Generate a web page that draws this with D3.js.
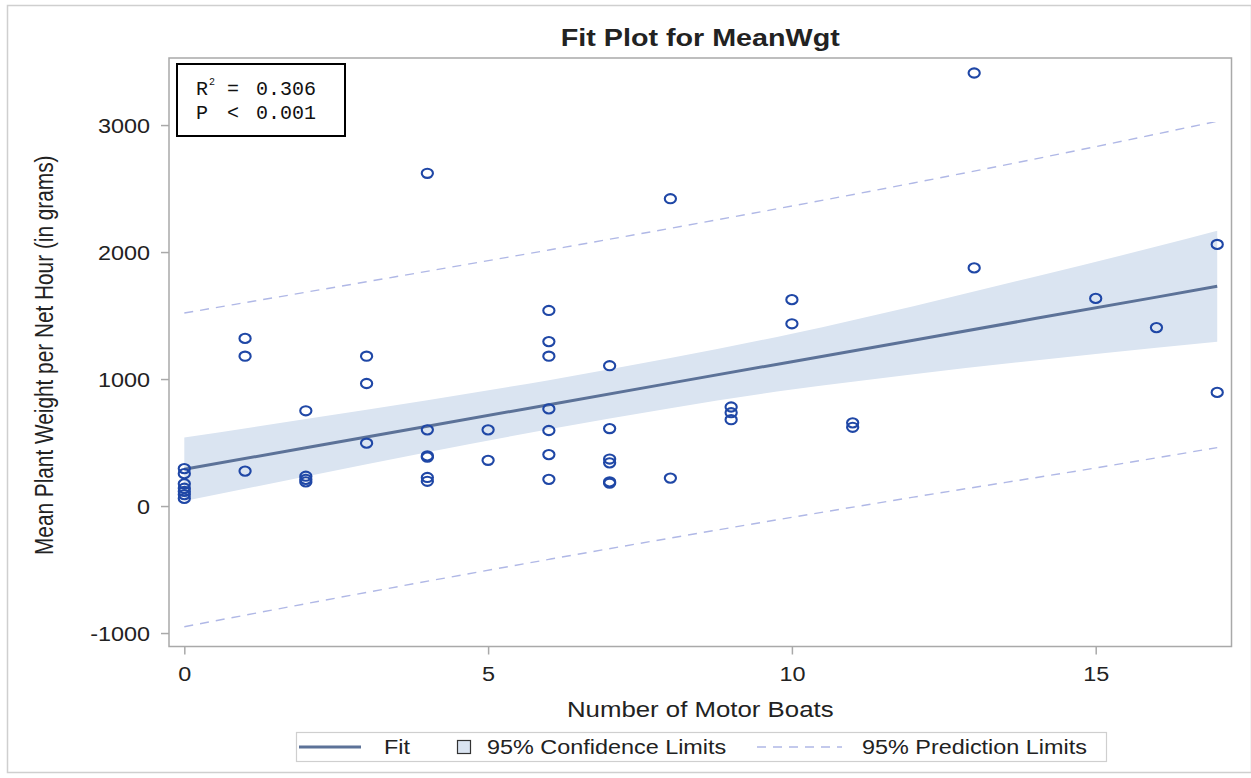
<!DOCTYPE html>
<html>
<head>
<meta charset="utf-8">
<script src="https://cdn.jsdelivr.net/npm/d3@7"></script>
<style>
  html, body { margin: 0; padding: 0; background: #fff; }
  svg { display: block; }
</style>
</head>
<body>
<div id="chart"></div>
<script>
// Observations: number of motor boats vs. mean plant weight per net hour
const pointX = [0,0,0,0,0,0,0, 1,1,1, 2,2,2,2, 3,3,3, 4,4,4,4,4,4, 5,5,
                6,6,6,6,6,6,6, 7,7,7,7,7,7, 8,8, 9,9,9, 10,10, 11,11, 13,13, 15, 16, 17,17];
const pointY = [295,255,175,140,115,90,60, 1320,1180,275, 750,235,210,190, 1180,965,495,
                2620,600,395,385,225,195, 600,360,
                1540,1295,1180,765,595,405,210, 1105,610,370,340,190,180, 2420,220,
                780,735,680, 1625,1435, 655,620, 3410,1875, 1635, 1405, 2060,895];

// Fitted line and 95% confidence limits
const bandX   = [0, 2, 4, 6, 8, 10, 12, 14, 16, 17];
const fitY    = [290, 459, 629, 798, 968, 1137, 1306, 1476, 1645, 1730];
const clUpper = [540, 685, 834, 991, 1165, 1357, 1574, 1806, 2043, 2167];
const clLower = [40, 233, 424, 605, 771, 917, 1038, 1146, 1247, 1293];

// 95% prediction limits
const predX   = [0, 3, 6, 9, 12, 15, 17];
const plUpper = [1520, 1766, 2016, 2274, 2544, 2830, 3030];
const plLower = [-950, -680, -420, -170, 70, 300, 460];

const xTicks = [0, 5, 10, 15];
const yTicks = [-1000, 0, 1000, 2000, 3000];

const statLines = [["R", "=", "0.306"], ["P", "<", "0.001"]];
const legendLabels = ["Fit", "95% Confidence Limits", "95% Prediction Limits"];

const W = 1251, H = 778;
const plot = { left: 169, right: 1231.5, top: 58, bottom: 646.5 };
const sxText = 1.206;           // horizontal stretch of the lettering
const FONT = "'Liberation Sans', Arial, sans-serif";
const MONO = "'Liberation Mono', 'Courier New', monospace";

const C = {
  marker: "#1f47a6",
  fit: "#5c7298",
  band: "#dae4f1",
  pred: "#b0b8e6",
  frame: "#a9a9a9",
  text: "#222"
};

const svg = d3.select("#chart").append("svg").attr("width", W).attr("height", H);

// outer border of the graph
svg.append("rect").attr("x", 7.5).attr("y", 5.5).attr("width", W - 7).attr("height", 767)
  .attr("fill", "#fff").attr("stroke", "#cfcfcf").attr("stroke-width", 1.5);

const x = d3.scaleLinear().domain([-0.252, 17.235]).range([plot.left, plot.right]);
const y = d3.scaleLinear().domain([-1106, 3528]).range([plot.bottom, plot.top]);

function stretchedText(parent, px, py, str, size, anchor, weight) {
  const g = parent.append("g").attr("transform", `translate(${px},${py}) scale(${sxText},1)`);
  return g.append("text").attr("font-family", FONT).attr("font-size", size)
    .attr("font-weight", weight || "normal").attr("text-anchor", anchor || "start")
    .attr("fill", C.text).text(str);
}

// title
stretchedText(svg, (plot.left + plot.right) / 2, 46, "Fit Plot for MeanWgt", 23.8, "middle", "bold");

svg.append("defs").append("clipPath").attr("id", "plotClip")
  .append("rect").attr("x", plot.left).attr("y", plot.top)
  .attr("width", plot.right - plot.left).attr("height", plot.bottom - plot.top);

const body = svg.append("g").attr("clip-path", "url(#plotClip)");

// confidence band
const bandData = bandX.map((d, i) => ({ x: d, lo: clLower[i], hi: clUpper[i], fit: fitY[i] }));
body.append("path").datum(bandData)
  .attr("d", d3.area().x(d => x(d.x)).y0(d => y(d.lo)).y1(d => y(d.hi)).curve(d3.curveMonotoneX))
  .attr("fill", C.band);

// prediction limits
const predData = predX.map((d, i) => ({ x: d, lo: plLower[i], hi: plUpper[i] }));
["hi", "lo"].forEach(k => {
  body.append("path").datum(predData)
    .attr("d", d3.line().x(d => x(d.x)).y(d => y(d[k])).curve(d3.curveMonotoneX))
    .attr("fill", "none").attr("stroke", C.pred).attr("stroke-width", 1.4)
    .attr("stroke-dasharray", "9,7");
});

// fit line
body.append("path").datum(bandData)
  .attr("d", d3.line().x(d => x(d.x)).y(d => y(d.fit)))
  .attr("fill", "none").attr("stroke", C.fit).attr("stroke-width", 3);

// observations
const pts = pointX.map((d, i) => ({ x: d, y: pointY[i] }));
body.selectAll("ellipse.obs").data(pts).enter().append("ellipse").attr("class", "obs")
  .attr("cx", d => x(d.x)).attr("cy", d => y(d.y))
  .attr("rx", 5.6).attr("ry", 4.6)
  .attr("fill", "none").attr("stroke", C.marker).attr("stroke-width", 2.1);

// plot frame
svg.append("rect").attr("x", plot.left).attr("y", plot.top)
  .attr("width", plot.right - plot.left).attr("height", plot.bottom - plot.top)
  .attr("fill", "none").attr("stroke", C.frame).attr("stroke-width", 1.5);

// axes
const yAxis = svg.append("g").attr("transform", `translate(${plot.left},0)`)
  .call(d3.axisLeft(y).tickValues(yTicks).tickFormat(d => String(d)).tickSize(8).tickSizeOuter(0).tickPadding(11));
const xAxis = svg.append("g").attr("transform", `translate(0,${plot.bottom})`)
  .call(d3.axisBottom(x).tickValues(xTicks).tickFormat(d => String(d)).tickSize(8).tickSizeOuter(0).tickPadding(10));
[yAxis, xAxis].forEach(a => {
  a.select(".domain").remove();
  a.selectAll(".tick line").attr("stroke", C.frame).attr("stroke-width", 1.5);
  a.selectAll(".tick text").attr("font-family", FONT).attr("font-size", 19.4).attr("fill", C.text);
});
yAxis.selectAll(".tick text").attr("transform", `scale(${sxText},1)`)
  .attr("x", -19 / sxText).attr("dy", "0.36em");
xAxis.selectAll(".tick text").attr("transform", `scale(${sxText},1)`).attr("dy", "0.85em");

// axis titles
stretchedText(svg, (plot.left + plot.right) / 2, 717, "Number of Motor Boats", 21.4, "middle");
svg.append("g").attr("transform", `translate(53,${(plot.top + plot.bottom) / 2 + 3}) rotate(-90) scale(1,${sxText})`)
  .append("text").attr("font-family", FONT).attr("font-size", 20.8).attr("text-anchor", "middle")
  .attr("fill", C.text).text("Mean Plant Weight per Net Hour (in grams)");

// statistics inset
const inset = svg.append("g");
inset.append("rect").attr("x", 177).attr("y", 64).attr("width", 168).attr("height", 72)
  .attr("fill", "#fff").attr("stroke", "#000").attr("stroke-width", 2);
statLines.forEach((ln, i) => {
  const by = 95 + i * 24;
  [[196, ln[0], "start"], [233, ln[1], "middle"], [256, ln[2], "start"]].forEach(([px, s, an]) => {
    inset.append("text").attr("x", px).attr("y", by).attr("font-family", MONO)
      .attr("font-size", 20).attr("text-anchor", an).attr("fill", "#111").text(s);
  });
});
inset.append("text").attr("x", 209).attr("y", 85).attr("font-family", MONO)
  .attr("font-size", 10).attr("fill", "#111").text("2");

// legend
const lg = svg.append("g");
lg.append("rect").attr("x", 296.5).attr("y", 732.5).attr("width", 810).attr("height", 29)
  .attr("fill", "#fff").attr("stroke", "#cfcfcf").attr("stroke-width", 1.2);
lg.append("line").attr("x1", 299).attr("x2", 361).attr("y1", 747).attr("y2", 747)
  .attr("stroke", C.fit).attr("stroke-width", 3);
stretchedText(lg, 384, 754, legendLabels[0], 19.4);
lg.append("rect").attr("x", 457.5).attr("y", 740.5).attr("width", 13).attr("height", 13)
  .attr("fill", C.band).attr("stroke", "#333").attr("stroke-width", 1.2);
stretchedText(lg, 487, 754, legendLabels[1], 19.4);
lg.append("line").attr("x1", 757).attr("x2", 842).attr("y1", 747).attr("y2", 747)
  .attr("stroke", C.pred).attr("stroke-width", 1.4).attr("stroke-dasharray", "9,7");
stretchedText(lg, 862, 754, legendLabels[2], 19.4);
</script>
</body>
</html>
